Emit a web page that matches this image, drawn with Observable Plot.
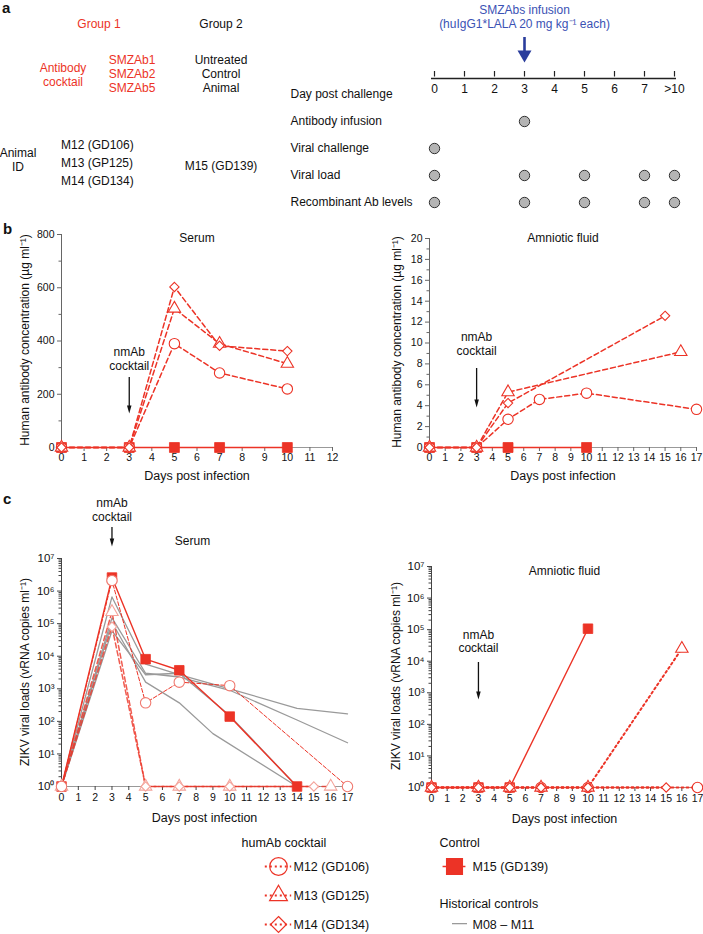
<!DOCTYPE html>
<html><head><meta charset="utf-8">
<script src="https://cdn.jsdelivr.net/npm/d3@7"></script>
<script src="https://cdn.jsdelivr.net/npm/@observablehq/plot@0.6"></script>
<style>
body{margin:0;background:#fff;font-family:"Liberation Sans",Arial,sans-serif;color:#111;}
#root{position:relative;width:703px;height:934px;overflow:hidden;background:#fff;}
.t{position:absolute;font-size:12px;line-height:14px;white-space:pre;text-align:center;transform:translate(-50%,-50%);}
.l{transform:translate(0,-50%);text-align:left;}
.r{transform:translate(-50%,-50%) rotate(-90deg);}
.p{position:absolute;font-size:15px;font-weight:bold;line-height:15px;}
</style></head><body><div id="root"></div>
<script>
// ---------- Panel a data ----------
const scheduleDays = ["0","1","2","3","4","5","6","7",">10"];
const scheduleRows = ["Day post challenge","Antibody infusion","Viral challenge","Viral load","Recombinant Ab levels"];
const antibodyInfusionDays = ["3"];
const viralChallengeDays = ["0"];
const viralLoadDays = ["0","3","5","7",">10"];
const recombinantAbDays = ["0","3","5","7",">10"];

// ---------- Panel b data (µg/ml) ----------
const serumAbDays = [0,3,5,7,10];
const serumAbM12 = [0,0,390,280,220];
const serumAbM13 = [0,0,522,390,315];
const serumAbM14 = [0,0,603,382,362];
const serumAbM15 = [0,0,0,0,0];
const amnioAbDaysM12 = [0,3,5,7,10,17];
const amnioAbM12 = [0,0,2.7,4.6,5.2,3.65];
const amnioAbDaysM13 = [0,3,5,16];
const amnioAbM13 = [0,0,5.3,9.15];
const amnioAbDaysM14 = [0,3,5,15];
const amnioAbM14 = [0,0,4.25,12.6];
const amnioAbDaysM15 = [0,3,5,10];
const amnioAbM15 = [0,0,0,0];

// ---------- Panel c data (vRNA copies/ml) ----------
const serumVlDaysM12 = [0,3,5,7,10,17];
const serumVlM12 = [1,2.1e6,370,1600,1250,1];
const serumVlDaysM13 = [0,3,5,7,10,16];
const serumVlM13 = [1,2.3e5,1,1,1,1];
const serumVlDaysM14 = [0,3,5,7,10,15];
const serumVlM14 = [1,8e4,1,1,1,1];
const serumVlDaysM15 = [0,3,5,7,10,14];
const serumVlM15 = [1,2.6e6,8100,3700,140,1];
const histDaysM08 = [0,3,5,7,10,14,17];
const histM08 = [1,6.6e5,5700,2700,1000,250,170];
const histDaysM09 = [0,3,5,7,10,14,17];
const histM09 = [1,1.5e5,3000,2300,900,110,22];
const histDaysM10 = [0,3,5,7,9,14];
const histM10 = [1,1.1e5,1600,370,42,1];
const histDaysM11 = [0,3,5,7,10,14];
const histM11 = [1,6e4,2700,3000,150,1];
const amnioVlDaysM12 = [0,3,5,7,10,17];
const amnioVlM12 = [1,1,1,1,1,1];
const amnioVlDaysM13 = [0,3,5,7,10,16];
const amnioVlM13 = [1,1,1,1,1,2.5e4];
const amnioVlDaysM14 = [0,3,5,7,10,15];
const amnioVlM14 = [1,1,1,1,1,1];
const amnioVlDaysM15 = [0,3,5,10];
const amnioVlM15 = [1,1,1,1.07e5];

// ---------- Legend ----------
const legendCocktail = ["M12 (GD106)","M13 (GD125)","M14 (GD134)"];
const legendControl = ["M15 (GD139)"];
const legendHistorical = ["M08 – M11"];

// ---------- helpers ----------
const FONT = "'Liberation Sans', Arial, sans-serif";
const RED = "#ec3326", PALE = "#f4a49b", GRAY = "#9a9a9a", BLUE = "#2a3d9c", BLUE_T = "#3b52b4";
const root = document.getElementById("root");
const rows = (days, vals, id) => days.map((d,i)=>({day:d, v:vals[i], id}));
function place(node, left, top){ node.style.position="absolute"; node.style.left=left+"px"; node.style.top=top+"px"; root.appendChild(node); }
function txt(s, x, y, color, cls){ const d=document.createElement("div"); d.className="t"+(cls?" "+cls:""); d.textContent=s; d.style.left=x+"px"; d.style.top=y+"px"; if(color) d.style.color=color; root.appendChild(d); return d; }
function panelLetter(s, x, y){ const d=document.createElement("div"); d.className="p"; d.textContent=s; d.style.left=x+"px"; d.style.top=y+"px"; root.appendChild(d); }
const headSymbol = (ratio) => ({draw(ctx, size){ const h=Math.sqrt(size), w=h*ratio; ctx.moveTo(-w/2,-h/2); ctx.lineTo(w/2,-h/2); ctx.lineTo(0,h/2); ctx.closePath(); }});
function arrowMarks(x, yTop, yTip, frameTop, frameBottom, color, headW, headH, shaftW){
  const headTop = yTip - headH;
  return [
    Plot.ruleX([x], {x: d=>d, insetTop: yTop - frameTop, insetBottom: frameBottom - headTop - 1, stroke: color, strokeWidth: shaftW}),
    Plot.dot([x], {x: d=>d, frameAnchor: "top", dy: (yTip - headH/2) - frameTop, symbol: headSymbol(headW/headH), r: headH/Math.sqrt(Math.PI), fill: color, stroke: "none"})
  ];
}
// single-line text anchored to top of frame, centred vertically at dy
const topText = (s, opts) => Plot.text([s], {frameAnchor: "top", lineAnchor: "middle", fontSize: 12, ...opts});
const SUP = "⁰¹²³⁴⁵⁶⁷⁸⁹";
const pow10 = d => "10" + String(Math.round(Math.log10(d))).split("").map(c=>SUP[+c]).join("");
const baseStyle = {fontFamily: FONT, fontSize: "10.5px", color: "#111", background: "transparent", overflow: "visible"};

// ---------- Panel a ----------
const schedule = [
  ...antibodyInfusionDays.map(d=>({day:d,row:"Antibody infusion"})),
  ...viralChallengeDays.map(d=>({day:d,row:"Viral challenge"})),
  ...viralLoadDays.map(d=>({day:d,row:"Viral load"})),
  ...recombinantAbDays.map(d=>({day:d,row:"Recombinant Ab levels"}))
];
const plotA = Plot.plot({
  width: 703, height: 215, marginTop: 0, marginBottom: 0, marginLeft: 431, marginRight: 27,
  style: {...baseStyle, fontSize: "12px"},
  x: {type: "point", domain: scheduleDays, padding: 0, axis: null},
  y: {type: "point", domain: scheduleRows, range: [92, 203], padding: 0, axis: null},
  marks: [
    Plot.ruleY(["Day post challenge"], {y: d=>d, dy: -16, stroke: "#222", strokeWidth: 1.3}),
    Plot.ruleX(scheduleDays, {x: d=>d, insetTop: 71, insetBottom: 215-76.5, stroke: "#222", strokeWidth: 1.2}),
    Plot.text(scheduleDays, {x: d=>d, y: ()=>"Day post challenge", dy: -5, fontSize: 12, lineAnchor: "middle"}),
    Plot.text(scheduleRows, {y: d=>d, frameAnchor: "left", textAnchor: "start", lineAnchor: "middle", dx: 290-431, fontSize: 12}),
    Plot.dot(schedule, {x: "day", y: "row", r: 5.2, fill: "#b4b4b4", stroke: "#333", strokeWidth: 1}),
    topText("SMZAbs infusion", {x: ()=>"3", dy: 10, fill: BLUE_T}),
    topText("(huIgG1*LALA 20 mg kg⁻¹ each)", {x: ()=>"3", dy: 24, fill: BLUE_T}),
    ...arrowMarks("3", 37, 62, 0, 215, BLUE, 14, 12, 2.6)
  ]
});
place(plotA, 0, 0);
panelLetter("a", 2, 0);
txt("Group 1", 99, 24, RED);
txt("Group 2", 221, 24);
txt("Antibody\ncocktail", 63, 75, RED);
txt("SMZAb1\nSMZAb2\nSMZAb5", 132, 74, RED);
txt("Untreated\nControl\nAnimal", 221, 74);
txt("Animal\nID", 18, 159.5);
txt("M12 (GD106)", 61, 145, null, "l");
txt("M13 (GP125)", 61, 163, null, "l");
txt("M14 (GD134)", 61, 181, null, "l");
txt("M15 (GD139)", 221, 165.5);

// ---------- Panel b common ----------
function abMarks(series){
  const [m12, m13, m14, m15] = series;
  return [
    Plot.line(m15, {x: "day", y: "v", stroke: RED, strokeWidth: 1.6}),
    Plot.line([...m12, ...m13, ...m14], {x: "day", y: "v", z: "id", stroke: RED, strokeWidth: 1.5, strokeDasharray: "5,3"}),
    Plot.dot(m15, {x: "day", y: "v", symbol: "square", r: 5.6, fill: RED, stroke: RED, strokeWidth: 0.8}),
    Plot.dot(m12, {x: "day", y: "v", symbol: "circle", r: 5.2, fill: "white", stroke: RED, strokeWidth: 1.1}),
    Plot.dot(m13, {x: "day", y: "v", symbol: "triangle", r: 4.6, fill: "white", stroke: RED, strokeWidth: 1.1}),
    Plot.dot(m14, {x: "day", y: "v", symbol: "diamond2", r: 4.2, fill: "white", stroke: RED, strokeWidth: 1.1})
  ];
}
function axesLinear({xTicks, yTicks, yMinor, xLabelDy}){
  return [
    Plot.frame({anchor: "left", stroke: "#666"}),
    Plot.frame({anchor: "bottom", stroke: "#999"}),
    Plot.axisX({ticks: xTicks, tickSize: 4, tickPadding: 2, label: null, stroke: "#666"}),
    Plot.axisY({ticks: yMinor, tickSize: 2.5, text: null, label: null, stroke: "#666"}),
    Plot.axisY({ticks: yTicks, tickSize: 4, tickPadding: 3, label: null, stroke: "#666"}),
    Plot.text(["Days post infection"], {frameAnchor: "bottom", lineAnchor: "middle", dy: xLabelDy, fontSize: 12.5})
  ];
}
const AB_LABEL = "Human antibody concentration (µg ml⁻¹)";

// Serum (b)
const plotBS = Plot.plot({
  width: 360, height: 290, marginLeft: 61, marginRight: 28, marginTop: 34, marginBottom: 43,
  style: baseStyle,
  x: {domain: [0, 12]}, y: {domain: [0, 800]},
  marks: [
    ...axesLinear({xTicks: d3.range(0,13), yTicks: [0,200,400,600,800], yMinor: [100,300,500,700], xLabelDy: 28}),
    topText("Serum", {dy: 4}),
    topText("nmAb", {x: ()=>3, dy: 118}),
    topText("cocktail", {x: ()=>3, dy: 132}),
    ...arrowMarks(3, 377, 413, 234, 447, "#111", 4.5, 8, 1.3),
    ...abMarks([rows(serumAbDays, serumAbM12, "M12"), rows(serumAbDays, serumAbM13, "M13"), rows(serumAbDays, serumAbM14, "M14"), rows(serumAbDays, serumAbM15, "M15")])
  ]
});
place(plotBS, 0, 200);
txt(AB_LABEL, 25, 340, null, "r");

// Amniotic (b)
const plotBA = Plot.plot({
  width: 363, height: 290, marginLeft: 89, marginRight: 7, marginTop: 38, marginBottom: 43,
  style: baseStyle,
  x: {domain: [0, 17]}, y: {domain: [0, 20]},
  marks: [
    ...axesLinear({xTicks: d3.range(0,18), yTicks: d3.range(0,21,2), yMinor: d3.range(1,20,2), xLabelDy: 28}),
    topText("Amniotic fluid", {dy: 0}),
    topText("nmAb", {x: ()=>3, dy: 99}),
    topText("cocktail", {x: ()=>3, dy: 113}),
    ...arrowMarks(3, 368, 407, 238, 447, "#111", 4.5, 8, 1.3),
    ...abMarks([rows(amnioAbDaysM12, amnioAbM12, "M12"), rows(amnioAbDaysM13, amnioAbM13, "M13"), rows(amnioAbDaysM14, amnioAbM14, "M14"), rows(amnioAbDaysM15, amnioAbM15, "M15")])
  ]
});
place(plotBA, 340, 200);
txt(AB_LABEL, 397, 342, null, "r");
panelLetter("b", 3, 221);

// ---------- Panel c ----------
const logMajor = d3.range(0,8).map(k=>10**k);
const logMinor = d3.range(0,7).flatMap(k=>d3.range(2,10).map(m=>m*10**k));
function axesLog({xLabelDy}){
  return [
    Plot.frame({anchor: "left", stroke: "#444"}),
    Plot.frame({anchor: "bottom", stroke: "#999"}),
    Plot.axisX({ticks: d3.range(0,18), tickSize: 4, tickPadding: 3, label: null, stroke: "#444"}),
    Plot.axisY({ticks: logMinor, tickSize: 2.5, text: null, label: null, stroke: "#444"}),
    Plot.axisY({ticks: logMajor, tickSize: 4, tickPadding: 3, tickFormat: pow10, label: null, fontSize: 11.5, stroke: "#444"}),
    Plot.text(["Days post infection"], {frameAnchor: "bottom", lineAnchor: "middle", dy: xLabelDy, fontSize: 12.5})
  ];
}
const VL_LABEL = "ZIKV viral loads (vRNA copies ml⁻¹)";

// Serum (c)
const histAll = [...rows(histDaysM08, histM08, "M08"), ...rows(histDaysM09, histM09, "M09"), ...rows(histDaysM10, histM10, "M10"), ...rows(histDaysM11, histM11, "M11")];
const cs12 = rows(serumVlDaysM12, serumVlM12, "M12"), cs13 = rows(serumVlDaysM13, serumVlM13, "M13"),
      cs14 = rows(serumVlDaysM14, serumVlM14, "M14"), cs15 = rows(serumVlDaysM15, serumVlM15, "M15");
const plotCS = Plot.plot({
  width: 360, height: 340, marginLeft: 61, marginRight: 13, marginTop: 68, marginBottom: 44,
  style: baseStyle,
  x: {domain: [0, 17]}, y: {type: "log", domain: [1, 1e7]},
  marks: [
    ...axesLog({xLabelDy: 31}),
    topText("Serum", {dy: -17, dx: -12}),
    topText("nmAb", {x: ()=>3, dy: -55}),
    topText("cocktail", {x: ()=>3, dy: -41}),
    ...arrowMarks(3, 527, 546, 558, 786, "#111", 4.5, 8, 1.3),
    Plot.line(histAll, {x: "day", y: "v", z: "id", stroke: GRAY, strokeWidth: 1.3}),
    Plot.line([...cs13, ...cs14], {x: "day", y: "v", z: "id", stroke: RED, strokeOpacity: 0.8, strokeWidth: 1.5, strokeDasharray: "5,3"}),
    Plot.line(cs12, {x: "day", y: "v", stroke: RED, strokeWidth: 1, strokeDasharray: "4,2"}),
    Plot.line(cs15, {x: "day", y: "v", stroke: RED, strokeWidth: 1.4}),
    Plot.dot(cs15, {x: "day", y: "v", symbol: "square", r: 5.4, fill: RED, stroke: RED, strokeWidth: 0.8}),
    Plot.dot(cs13, {x: "day", y: "v", symbol: "triangle", r: 4.6, fill: "white", stroke: PALE, strokeWidth: 1.1}),
    Plot.dot(cs14, {x: "day", y: "v", symbol: "diamond2", r: 4.2, fill: "white", stroke: PALE, strokeWidth: 1.1}),
    Plot.dot(cs12, {x: "day", y: "v", symbol: "circle", r: 5.2, fill: "white", stroke: "#f07a70", strokeWidth: 1.1})
  ]
});
place(plotCS, 0, 490);
txt(VL_LABEL, 25, 672, null, "r");

// Amniotic (c)
const ca12 = rows(amnioVlDaysM12, amnioVlM12, "M12"), ca13 = rows(amnioVlDaysM13, amnioVlM13, "M13"),
      ca14 = rows(amnioVlDaysM14, amnioVlM14, "M14"), ca15 = rows(amnioVlDaysM15, amnioVlM15, "M15");
const plotCA = Plot.plot({
  width: 363, height: 340, marginLeft: 91, marginRight: 6, marginTop: 76, marginBottom: 43,
  style: baseStyle,
  x: {domain: [0, 17]}, y: {type: "log", domain: [1, 1e7]},
  marks: [
    ...axesLog({xLabelDy: 31}),
    topText("Amniotic fluid", {dy: 5}),
    topText("nmAb", {x: ()=>3, dy: 69}),
    topText("cocktail", {x: ()=>3, dy: 82}),
    ...arrowMarks(3, 662, 699, 566, 787, "#111", 4.5, 8, 1.3),
    Plot.line([...ca12, ...ca13, ...ca14], {x: "day", y: "v", z: "id", stroke: RED, strokeWidth: 2, strokeDasharray: "2,3"}),
    Plot.line(ca15, {x: "day", y: "v", stroke: RED, strokeWidth: 1.4}),
    Plot.dot(ca15, {x: "day", y: "v", symbol: "square", r: 5.4, fill: RED, stroke: RED, strokeWidth: 0.8}),
    Plot.dot(ca12, {x: "day", y: "v", symbol: "circle", r: 5.2, fill: "white", stroke: RED, strokeWidth: 1.1}),
    Plot.dot(ca13, {x: "day", y: "v", symbol: "triangle", r: 4.6, fill: "white", stroke: RED, strokeWidth: 1.1}),
    Plot.dot(ca14, {x: "day", y: "v", symbol: "diamond2", r: 4.2, fill: "white", stroke: RED, strokeWidth: 1.1})
  ]
});
place(plotCA, 340, 490);
txt(VL_LABEL, 396, 676, null, "r");
panelLetter("c", 3, 491);

// ---------- Legend ----------
const legendSymbols = ["circle","triangle","diamond2"];
const legendR = [8.8, 6.6, 7.2];
const cocktailItems = legendCocktail.map((name,i)=>({name, row:i, col:0, symbol: legendSymbols[i], r: legendR[i]}));
const plotLeg = Plot.plot({
  width: 400, height: 104, margin: 0,
  style: {...baseStyle, fontSize: "12.5px"},
  x: {domain: [0, 1], range: [128, 304], axis: null},
  y: {domain: [0, 2], range: [36, 94], axis: null},
  marks: [
    Plot.text(["humAb cocktail"], {x: ()=>0, y: ()=>-0.8, dx: -37, textAnchor: "start"}),
    Plot.text(["Control"], {x: ()=>1, y: ()=>-0.8, dx: -15, textAnchor: "start"}),
    Plot.text(["Historical controls"], {x: ()=>1, y: ()=>1.28, dx: -15, textAnchor: "start"}),
    Plot.ruleY(cocktailItems, {y: "row", x1: -0.075, x2: 0.075, stroke: RED, strokeWidth: 2, strokeDasharray: "2,3"}),
    ...cocktailItems.map(it => Plot.dot([it], {x: "col", y: "row", symbol: it.symbol, r: it.r, fill: "none", stroke: RED, strokeWidth: 1.2})),
    Plot.text(cocktailItems, {x: "col", y: "row", text: "name", dx: 15, textAnchor: "start"}),
    Plot.ruleY(legendControl, {y: ()=>0, x1: ()=>0.935, x2: ()=>1.065, stroke: RED, strokeWidth: 1.5}),
    Plot.dot(legendControl, {x: ()=>1, y: ()=>0, symbol: "square", r: 8.8, fill: RED, stroke: RED}),
    Plot.text(legendControl, {x: ()=>1, y: ()=>0, text: d=>d, dx: 18, textAnchor: "start"}),
    Plot.ruleY(legendHistorical, {y: ()=>1.97, x1: ()=>1-2/176, x2: ()=>1+13/176, stroke: GRAY, strokeWidth: 1.3}),
    Plot.text(legendHistorical, {x: ()=>1, y: ()=>2, text: d=>d, dx: 18, textAnchor: "start"})
  ]
});
place(plotLeg, 150, 830);
</script></body></html>
